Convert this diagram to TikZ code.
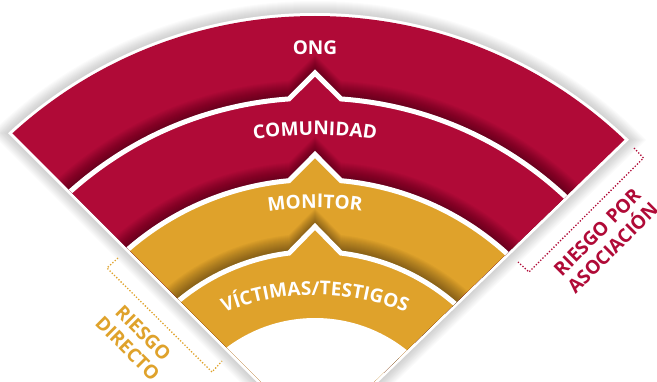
\documentclass[tikz,border=0pt]{standalone}
\usepackage{fontspec}
\setmainfont{Open Sans}
\usetikzlibrary{decorations.text}
\definecolor{ongred}{HTML}{B00A37}
\definecolor{mongold}{HTML}{DFA22B}
\newcommand{\bandfont}{\fontsize{19}{22}\selectfont\bfseries}
\newcommand{\bandshape}[1]{(315,-84) ++({90-asin(26/(#1))}:{#1}) arc[start angle={90-asin(26/(#1))}, end angle={-270+asin(26/(#1))}, radius={#1}] -- (315,{-59+#1}) -- cycle}
\tikzset{
  bandfill/.style={draw=white, line width=5pt, line join=miter},
  bandshadow/.style={fill=black, opacity=0.027},
  bandlabel/.style={text=white, font=\bandfont, inner sep=0pt},
  risklabel/.style={font=\bandfont, align=center, inner sep=0pt},
  riskbracket/.style={line width=1.3pt, dash pattern=on 1.3pt off 1.8pt},
  curvetext/.style={decorate, decoration={text along path, text align=center, text={|\color{white}\bandfont|#1}}}
}

\begin{document}
\begin{tikzpicture}[x=1pt, y=1pt]
  \useasboundingbox (0,0) rectangle (657,381);

  \foreach \i in {1,...,12} {
    \begin{scope}
      \clip (316.5,{-56.5-1.414*(\i+3)}) -- +(135:900) -- +(90:900) -- +(44.03:900) -- cycle;
      \fill[black, opacity=0.015] (315,-84) circle[radius={452+\i}];
    \end{scope}
  }
  \begin{scope}
    \clip (316.5,{-56.5-1.414*3}) -- +(135:900) -- +(90:900) -- +(44.03:900) -- cycle;
    \fill[white] (315,-84) circle[radius=452];
  \end{scope}

  \begin{scope}
    \clip (316.5,-56.5) -- +(135:900) -- +(90:900) -- +(44.03:900) -- cycle;
    \fill[ongred] (315,-84) circle[radius=449];
    \foreach \i in {1,...,18} \fill[bandshadow] \bandshape{367+\i};
    \filldraw[bandfill, fill=ongred] \bandshape{367};
    \foreach \i in {1,...,18} \fill[bandshadow] \bandshape{285.5+\i};
    \filldraw[bandfill, fill=mongold] \bandshape{285.5};
    \foreach \i in {1,...,18} \fill[bandshadow] \bandshape{213.5+\i};
    \filldraw[bandfill, fill=mongold] \bandshape{213.5};
    \fill[white] (315,-84) circle[radius=147];
  \end{scope}

  \node[bandlabel, anchor=base] (ong) at (315,326) {ONG};
  \path[curvetext={COMUNIDAD}] (315,-166) ++(110:412) arc[start angle=110, end angle=70, radius=412];
  \path[curvetext={MONITOR}] (315,-147) ++(105:320) arc[start angle=105, end angle=75, radius=320];
  \path[curvetext={VÍCTIMAS/TESTIGOS}] (315,-157) ++(125:243) arc[start angle=125, end angle=55, radius=243];

  \coordinate (rt1) at (634,233);
  \coordinate (rc1) at (643.5,223);
  \coordinate (rc2) at (529,109);
  \coordinate (rt2) at (518,119);
  \draw[riskbracket, ongred] (rt1) -- (rc1) -- (rc2) -- (rt2);
  \node[risklabel, text=ongred, rotate=45] (asociacion) at (605,141) {RIESGO POR\\ASOCIACIÓN};

  \coordinate (lt1) at (118,123);
  \coordinate (lc1) at (107,113);
  \coordinate (lc2) at (212,9);
  \coordinate (lt2) at (222,20);
  \draw[riskbracket, mongold] (lt1) -- (lc1) -- (lc2) -- (lt2);
  \node[risklabel, text=mongold, rotate=-45] (directo) at (135.5,40.5) {RIESGO\\DIRECTO};
\end{tikzpicture}
\end{document}
